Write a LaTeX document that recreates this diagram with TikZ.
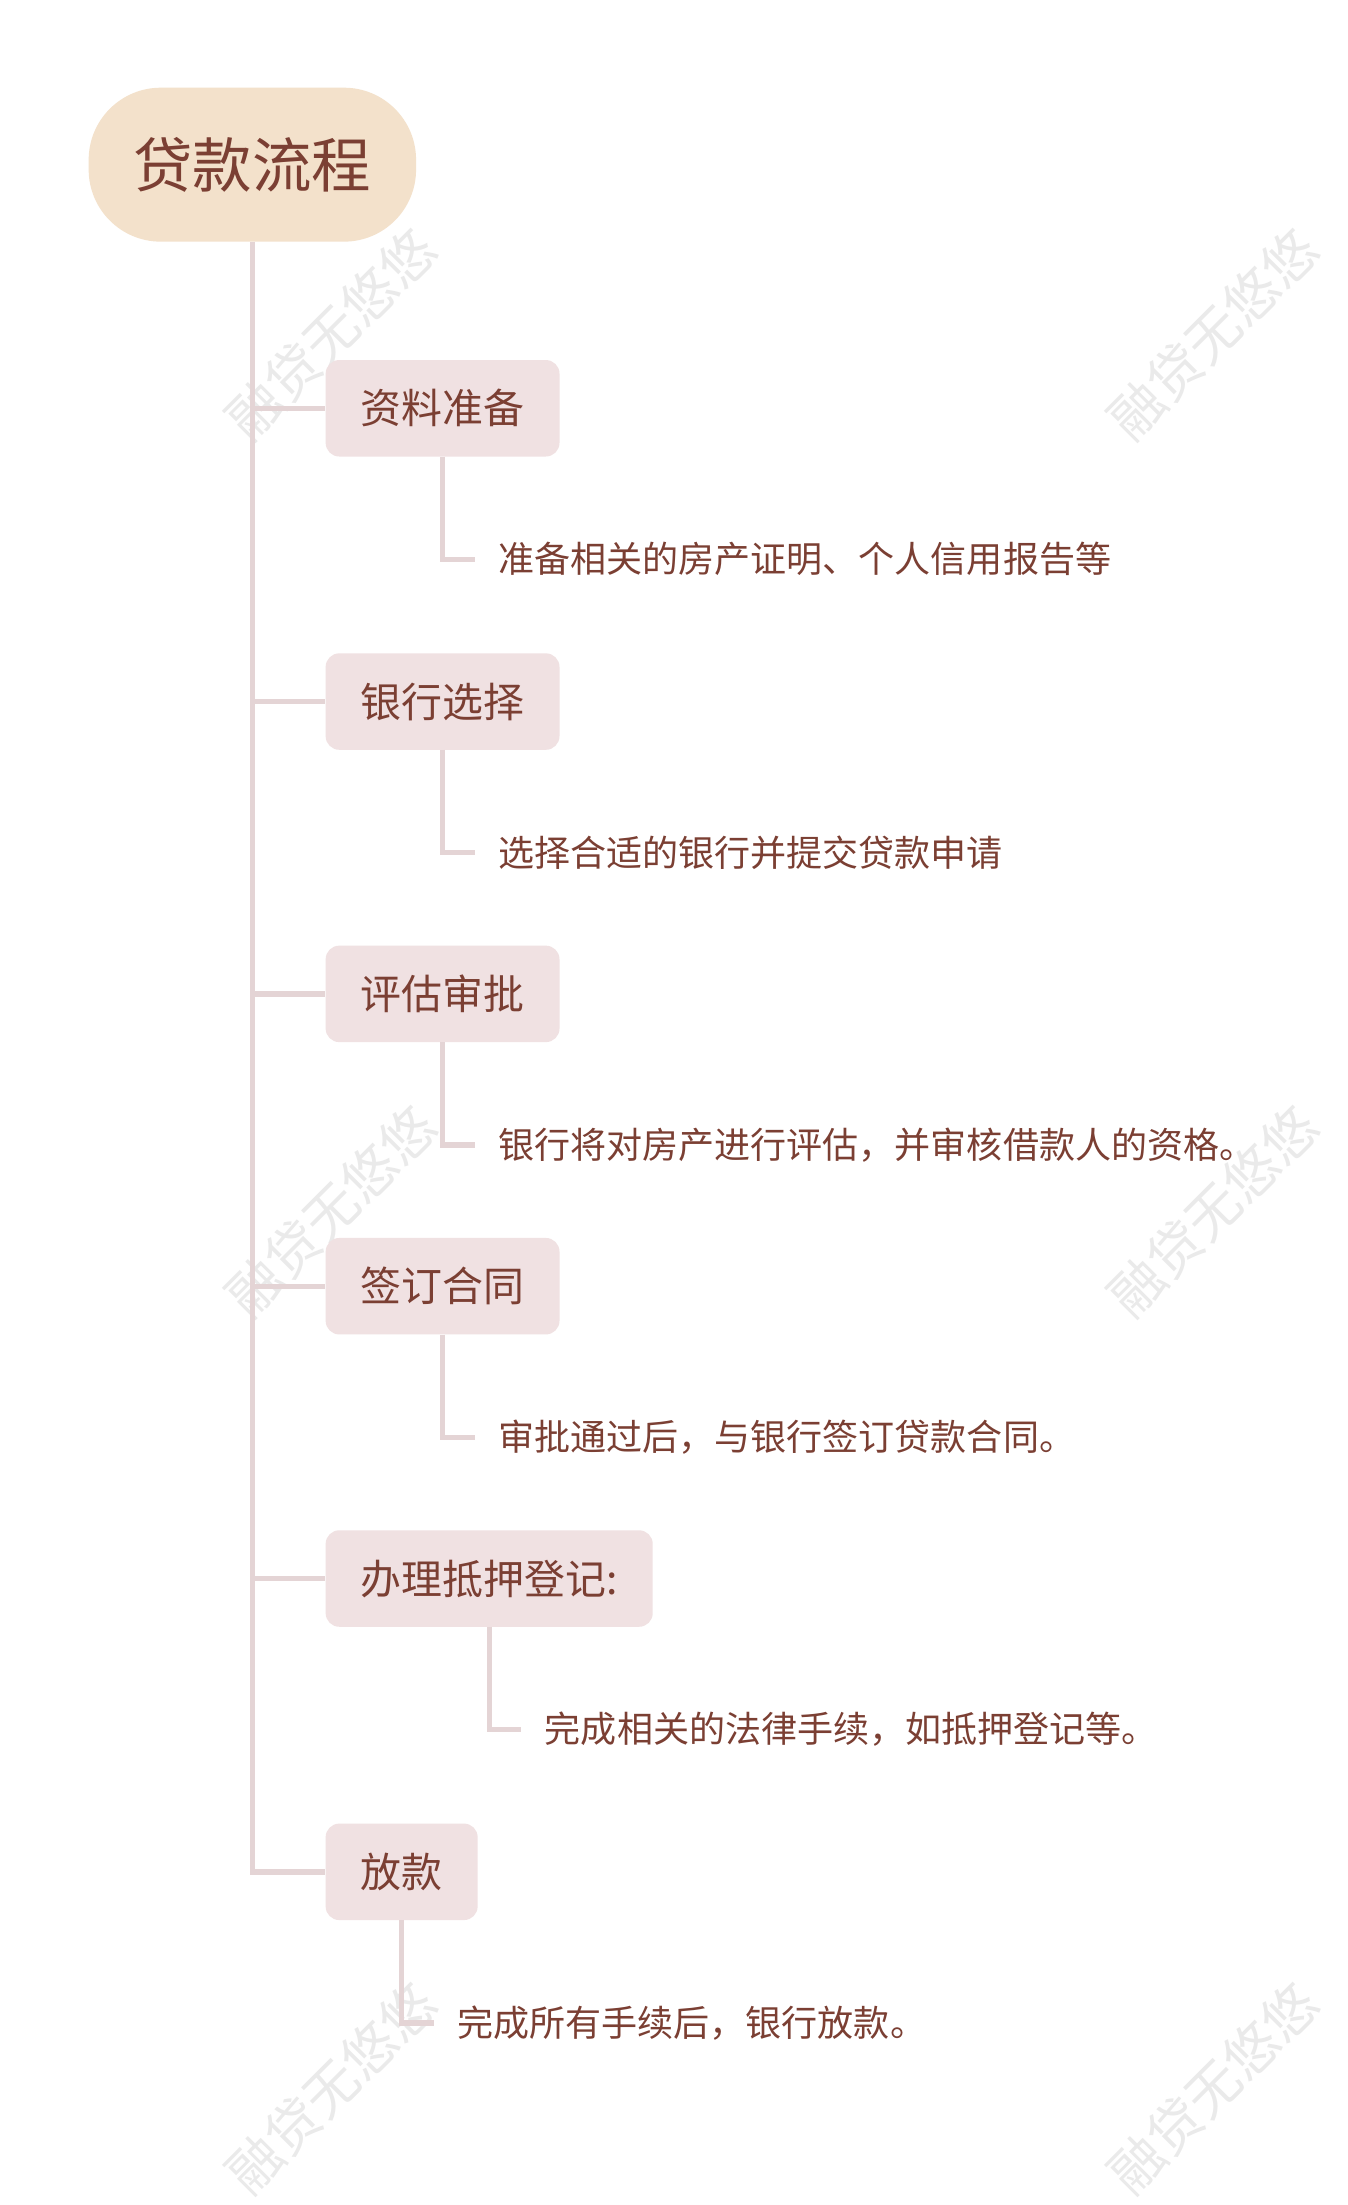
\documentclass[tikz,border=0pt]{standalone}
\usepackage{fontspec}
\setmainfont{Noto Sans CJK SC}
\usetikzlibrary{positioning}
\definecolor{rootfill}{HTML}{F3E1CB}
\definecolor{boxfill}{HTML}{F0E1E2}
\definecolor{linkcol}{HTML}{E4D4D5}
\definecolor{txtcol}{HTML}{7B3F33}
\definecolor{markcol}{HTML}{EAEAEA}
\begin{document}
\begin{tikzpicture}[x=1pt,y=-1pt,
    rootbox/.style={fill=rootfill,rounded corners=74pt,minimum width=336pt,minimum height=158pt,
        inner sep=0pt,text=txtcol,font=\fontsize{61}{70}\selectfont},
    stagebox/.style={fill=boxfill,rounded corners=14pt,minimum height=99pt,inner xsep=36pt,
        inner ysep=0pt,anchor=west,text=txtcol,font=\fontsize{42}{50}\selectfont},
    detail/.style={anchor=west,inner sep=0pt,text=txtcol,font=\fontsize{37}{44}\selectfont},
    link/.style={draw=linkcol,line width=5.5pt},
    watermark/.style={rotate=45,text=markcol,font=\fontsize{55}{64}\selectfont}]
                \fill[white] (0,0) rectangle (1383,2205);

                \node[watermark] (w1) at (340,343) {融贷无悠悠};
                \node[watermark] (w2) at (1245,343) {融贷无悠悠};
                \node[watermark] (w3) at (340,1243) {融贷无悠悠};
                \node[watermark] (w4) at (1245,1243) {融贷无悠悠};
                \node[watermark] (w5) at (340,2143) {融贷无悠悠};
                \node[watermark] (w6) at (1245,2143) {融贷无悠悠};

                \node[rootbox] (loan) at (259,169) {贷款流程};

                \node[stagebox] (prep) at (334,419) {资料准备};
                \node[stagebox] (bank) at (334,720) {银行选择};
                \node[stagebox] (review) at (334,1020) {评估审批};
                \node[stagebox] (sign) at (334,1320) {签订合同};
                \node[stagebox] (mortgage) at (334,1620) {办理抵押登记:};
                \node[stagebox] (release) at (334,1921) {放款};

                \node[detail] (prepinfo) at ([shift={(57pt,-155pt)}]prep.center) {准备相关的房产证明、个人信用报告等};
                \node[detail] (bankinfo) at ([shift={(57pt,-155pt)}]bank.center) {选择合适的银行并提交贷款申请};
                \node[detail] (reviewinfo) at ([shift={(57pt,-155pt)}]review.center) {银行将对房产进行评估，并审核借款人的资格。};
                \node[detail] (signinfo) at ([shift={(57pt,-155pt)}]sign.center) {审批通过后，与银行签订贷款合同。};
                \node[detail] (mortgageinfo) at ([shift={(57pt,-155pt)}]mortgage.center) {完成相关的法律手续，如抵押登记等。};
                \node[detail] (releaseinfo) at ([shift={(57pt,-155pt)}]release.center) {完成所有手续后，银行放款。};

                \draw[link] (loan.south) |- (release.west);
                \draw[link] (loan.south |- prep.west) -- (prep.west);
                \draw[link] (loan.south |- bank.west) -- (bank.west);
                \draw[link] (loan.south |- review.west) -- (review.west);
                \draw[link] (loan.south |- sign.west) -- (sign.west);
                \draw[link] (loan.south |- mortgage.west) -- (mortgage.west);

                \draw[link] (prep.south) |- ([xshift=-24pt]prepinfo.west);
                \draw[link] (bank.south) |- ([xshift=-24pt]bankinfo.west);
                \draw[link] (review.south) |- ([xshift=-24pt]reviewinfo.west);
                \draw[link] (sign.south) |- ([xshift=-24pt]signinfo.west);
                \draw[link] (mortgage.south) |- ([xshift=-24pt]mortgageinfo.west);
                \draw[link] (release.south) |- ([xshift=-24pt]releaseinfo.west);
\end{tikzpicture}
\end{document}
